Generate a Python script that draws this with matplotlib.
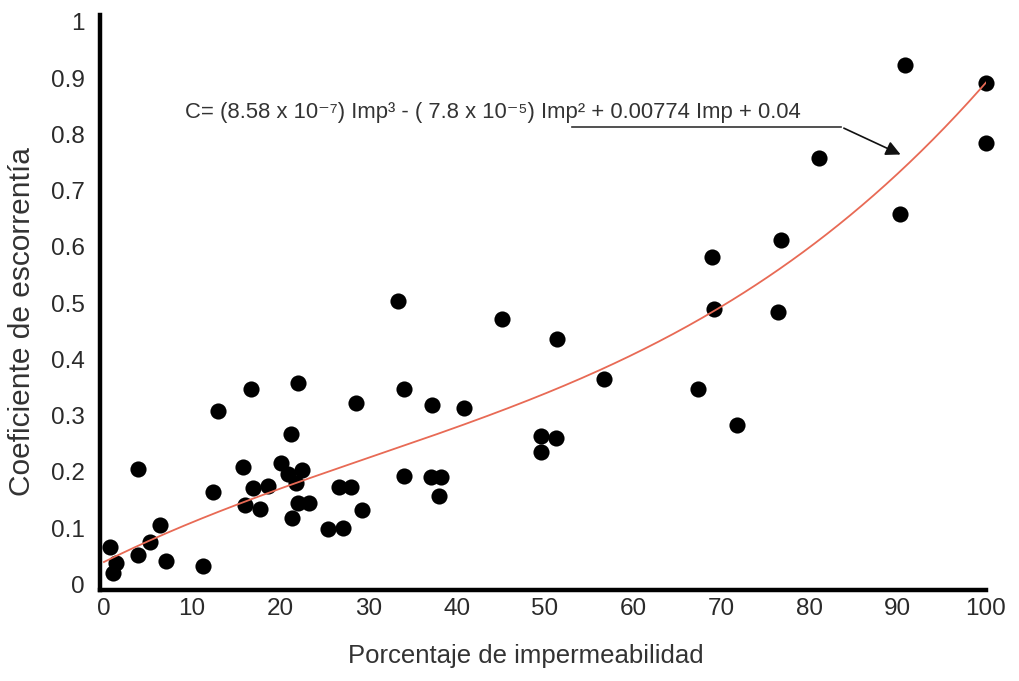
import matplotlib
matplotlib.use("Agg")
import matplotlib.pyplot as plt
import numpy as np

plt.rcParams['font.family'] = ['Liberation Sans', 'DejaVu Sans']

# Data: impermeability (%) vs runoff coefficient
imp = [0.7, 1.4, 1.05, 3.9, 5.2, 6.3, 7.0, 3.9, 11.2, 12.4, 12.9, 15.8, 16.0, 16.9,
       17.7, 18.6, 20.1, 20.9, 21.2, 21.3, 21.8, 22.5, 22.0, 23.3, 25.4, 27.1, 26.6,
       28.0, 29.3, 28.6, 16.7, 22.0, 33.3, 45.1, 51.4, 56.7, 68.9, 69.2, 34.0, 37.2,
       40.8, 49.6, 51.2, 49.5, 67.4, 34.0, 37.1, 38.2, 38.0, 90.8, 100.0, 100.0, 81.1,
       90.2, 76.8, 76.4, 71.8]
coef = [0.067, 0.038, 0.020, 0.052, 0.076, 0.106, 0.041, 0.205, 0.032, 0.165, 0.308,
        0.209, 0.141, 0.171, 0.135, 0.175, 0.216, 0.196, 0.267, 0.118, 0.180, 0.203,
        0.144, 0.144, 0.098, 0.100, 0.174, 0.173, 0.132, 0.323, 0.348, 0.358, 0.504,
        0.471, 0.437, 0.366, 0.582, 0.489, 0.347, 0.319, 0.313, 0.264, 0.261, 0.236,
        0.348, 0.193, 0.191, 0.191, 0.157, 0.923, 0.891, 0.785, 0.757, 0.659, 0.612,
        0.485, 0.283]

# Fitted cubic coefficients (from the equation shown)
fit = [8.58e-7, -7.8e-5, 0.00774, 0.04]

x_ticks = [0, 10, 20, 30, 40, 50, 60, 70, 80, 90, 100]
y_ticks = [0, 0.1, 0.2, 0.3, 0.4, 0.5, 0.6, 0.7, 0.8, 0.9, 1]
y_labels = ["0", "0.1", "0.2", "0.3", "0.4", "0.5", "0.6", "0.7", "0.8", "0.9", "1"]

fig = plt.figure(figsize=(10.2, 6.81), dpi=100)
ax = fig.add_axes([100/1020, 1-590/681, 886/1020, (590-15)/681])

xs = np.linspace(0, 100, 300)
ax.plot(xs, np.polyval(fit, xs), color='#e86a55', lw=1.3, zorder=3)
ax.scatter(imp, coef, s=135, color='black', zorder=2, clip_on=False, linewidths=0)

ax.set_xlim(-0.45, 99.9)
ax.set_ylim(-0.0098, 1.012)
ax.set_xticks(x_ticks)
ax.set_xticklabels([str(t) for t in x_ticks])
ax.set_yticks(y_ticks)
ax.set_yticklabels(y_labels)
ax.tick_params(axis='both', length=0, labelsize=17.5, colors='#2a2a2a')
ax.tick_params(axis='y', pad=11)
ax.tick_params(axis='x', pad=6)
for s in ['top', 'right']:
    ax.spines[s].set_visible(False)
for s in ['left', 'bottom']:
    ax.spines[s].set_linewidth(3.2)
    ax.spines[s].set_color('black')

ax.set_xlabel("Porcentaje de impermeabilidad", fontsize=18.5, color='#333333', labelpad=17)
ax.set_ylabel("Coeficiente de escorrentía", fontsize=21.5, color='#333333', labelpad=11)
ax.xaxis.label.set_x(0.481)
ax.yaxis.label.set_y(0.467)

ax.text(9.2, 0.838, "C= (8.58 x 10\u207b\u2077) Imp\u00b3 - ( 7.8 x 10\u207b\u2075) Imp\u00b2 + 0.00774 Imp + 0.04",
        fontsize=15.8, color='#333333', va='center', ha='left')
ax.plot([53.1, 83.6], [0.813, 0.813], color='#333333', lw=1.2)
ax.annotate("", xy=(90.6, 0.762), xytext=(83.6, 0.813),
            arrowprops=dict(arrowstyle='-|>', color='#111111', lw=1.2, mutation_scale=22))

fig.savefig("out.png", dpi=100)
